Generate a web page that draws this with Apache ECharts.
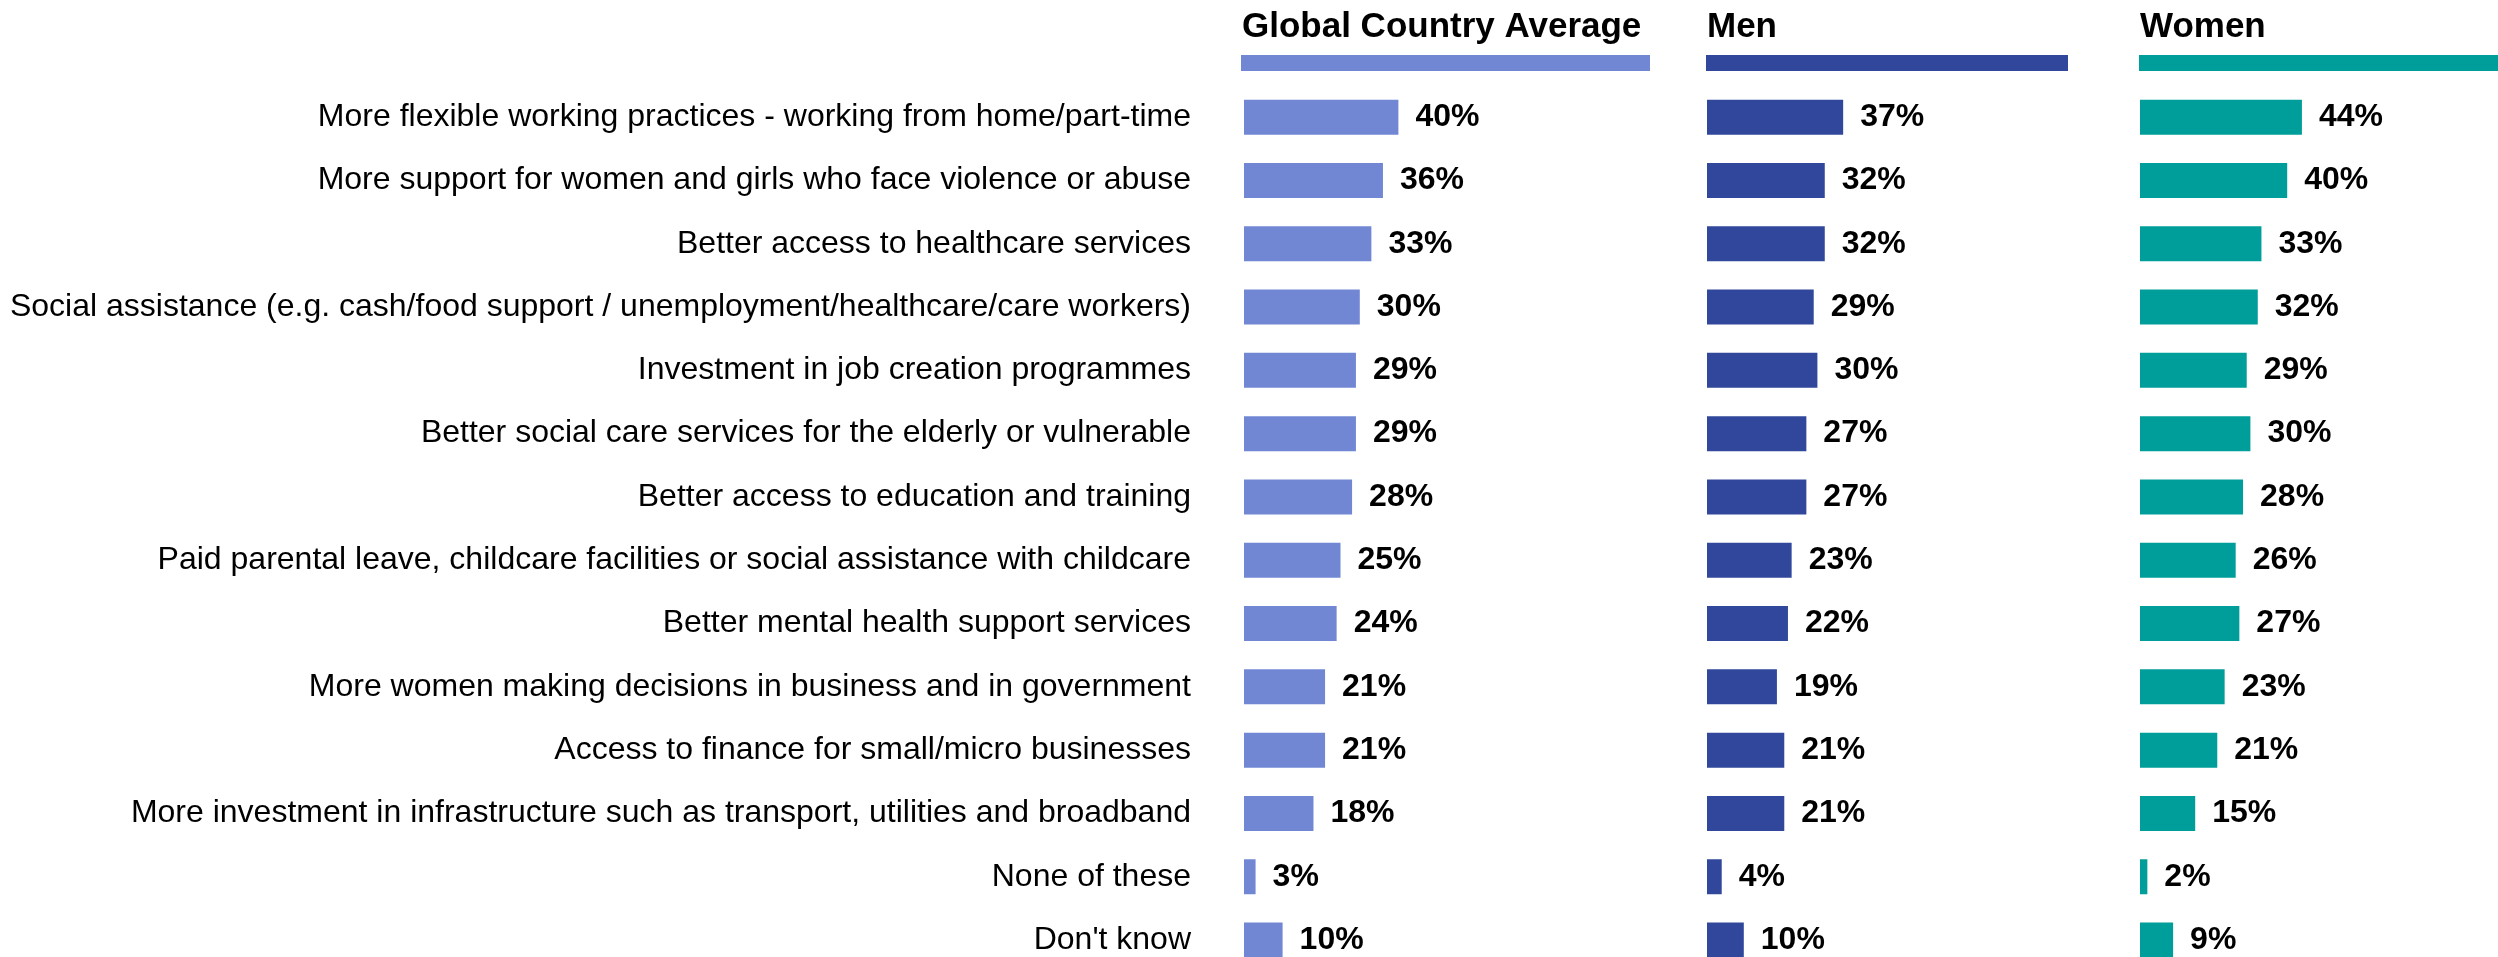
<!DOCTYPE html>
<html>
<head>
<meta charset="utf-8">
<script src="https://cdn.jsdelivr.net/npm/echarts@6/dist/echarts.min.js"></script>
<style>
html,body{margin:0;padding:0;background:#fff;}
#chart{width:2498px;height:957px;}
</style>
</head>
<body>
<div id="chart"></div>
<script>
const categories = [
  "More flexible working practices - working from home/part-time",
  "More support for women and girls who face violence or abuse",
  "Better access to healthcare services",
  "Social assistance (e.g. cash/food support / unemployment/healthcare/care workers)",
  "Investment in job creation programmes",
  "Better social care services for the elderly or vulnerable",
  "Better access to education and training",
  "Paid parental leave, childcare facilities or social assistance with childcare",
  "Better mental health support services",
  "More women making decisions in business and in government",
  "Access to finance for small/micro businesses",
  "More investment in infrastructure such as transport, utilities and broadband",
  "None of these",
  "Don't know"
];
const globalAvg = [40, 36, 33, 30, 29, 29, 28, 25, 24, 21, 21, 18, 3, 10];
const men       = [37, 32, 32, 29, 30, 27, 27, 23, 22, 19, 21, 21, 4, 10];
const women     = [44, 40, 33, 32, 29, 30, 28, 26, 27, 23, 21, 15, 2, 9];
const panelTitles = ["Global Country Average", "Men", "Women"];

const FONT = "'Liberation Sans', Arial, Helvetica, sans-serif";
const colors = ["#7287D4", "#30479B", "#009E9A"];
const seriesData = [globalAvg, men, women];
const gridLeft = [1244, 1707, 2140];
const gridWidth = [193, 184, 184];
const headerX = [1241, 1706, 2139];
const headerW = [409, 362, 370];
const TOP = 85.5, HEIGHT = 886.2;

const chart = echarts.init(document.getElementById('chart'), null, {renderer: 'canvas'});
const option = {
  backgroundColor: '#ffffff',
  animation: false,
  textStyle: {fontFamily: FONT},
  title: panelTitles.map((t, i) => ({
    text: t,
    left: headerX[i] + 1,
    top: 10,
    padding: 0,
    textStyle: {fontFamily: FONT, fontSize: 35, fontWeight: 'bold', color: '#000'}
  })),
  graphic: headerX.map((x, i) => ({
    type: 'rect',
    shape: {x: x, y: 55, width: headerW[i], height: 16},
    style: {fill: colors[i]},
    silent: true
  })),
  grid: gridLeft.map((l, i) => ({
    left: l, top: TOP, width: gridWidth[i], height: HEIGHT,
    containLabel: false, outerBoundsMode: 'none'
  })),
  xAxis: [0, 1, 2].map(i => ({type: 'value', gridIndex: i, min: 0, max: 50, show: false})),
  yAxis: [0, 1, 2].map(i => ({
    type: 'category',
    gridIndex: i,
    data: categories,
    inverse: true,
    axisLine: {show: false},
    axisTick: {show: false},
    splitLine: {show: false},
    axisLabel: {
      show: i === 0,
      margin: 53,
      fontFamily: FONT,
      fontSize: 32,
      color: '#000'
    }
  })),
  series: [0, 1, 2].map(i => ({
    type: 'bar',
    xAxisIndex: i,
    yAxisIndex: i,
    data: seriesData[i],
    barWidth: 35,
    itemStyle: {color: colors[i]},
    label: {
      show: true,
      position: 'right',
      distance: 17,
      formatter: p => p.value + '%',
      fontFamily: FONT,
      fontSize: 32,
      fontWeight: 'bold',
      color: '#000'
    }
  }))
};
chart.setOption(option);
</script>
</body>
</html>
